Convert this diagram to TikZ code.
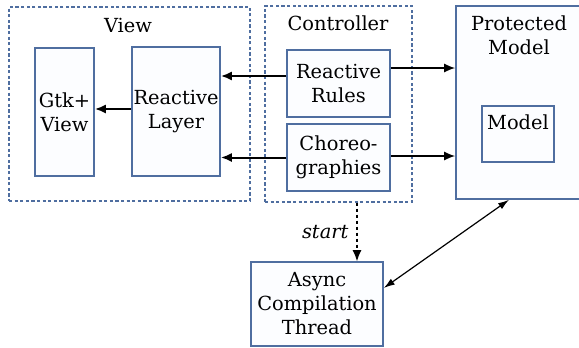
\documentclass[tikz,border=0pt]{standalone}
\usepackage{fontspec}
\setmainfont{DejaVu Serif}
\usepackage{tikz}
\usetikzlibrary{arrows.meta,shapes,calc,positioning}
\definecolor{boxblue}{RGB}{79,110,160}
\definecolor{boxfill}{RGB}{252,253,255}
\tikzstyle{block} =[rectangle, draw=boxblue, fill=boxfill,
                    line width=0.8pt, align=center, inner sep=0pt,
                    font=\fontsize{9.7}{12}\selectfont]
\tikzstyle{group} =[rectangle, draw=boxblue, dash pattern=on 1.6pt off 1.2pt,
                    line width=0.7pt, inner sep=0pt]
\tikzstyle{label} =[inner sep=0pt, align=center,
                    font=\fontsize{9.7}{12}\selectfont]
\tikzstyle{edge}  =[>={Latex[length=5.5pt,width=4.5pt]}, line width=1pt]

\begin{document}
\begin{tikzpicture}[x=0.5pt, y=-0.5pt, edge]
        \clip (0,0) rectangle (579,348);

        % view side
        \node[group, minimum width=120.5pt, minimum height=97pt] (view) at (129.5,104) {};
        \node[label] (viewlbl) at (128,25) {View};
        \node[block, minimum width=29.5pt, minimum height=64pt] (gtk) at (64.5,112) {Gtk+\\View};
        \node[block, minimum width=44pt, minimum height=64.5pt] (layer) at (176,111.5) {Reactive\\Layer};

        % controller
        \node[group, minimum width=73.5pt, minimum height=98pt] (ctrl) at (338.5,104) {};
        \node[label] (ctrllbl) at (338,23) {Controller};
        \node[block, minimum width=51.5pt, minimum height=33.5pt] (rules) at (338.5,83.5) {Reactive\\Rules};
        \node[block, minimum width=51.5pt, minimum height=33.5pt] (choreo) at (338.5,157.5) {Choreo-\\graphies};

        % model
        \node[block, minimum width=67pt, minimum height=96.5pt] (pmodel) at (523,102.5) {};
        \node[label] (pmodellbl) at (519,35) {Protected\\Model};
        \node[block, minimum width=36pt, minimum height=28pt] (model) at (518,134) {};
        \node[label] (modellbl) at (518,122) {Model};

        % thread
        \node[block, minimum width=66pt, minimum height=42pt] (async) at (317,304) {Async\\Compilation\\Thread};

        \draw[->] ([yshift=1.25pt]layer.west) -- ([yshift=1.25pt]layer.west -| gtk.east);
        \draw[->] ([yshift=3.75pt]rules.west) -- ([yshift=3.75pt]rules.west -| layer.east);
        \draw[->] (choreo.west) -- (choreo.west -| layer.east);
        \draw[->, line width=0.8pt] ([yshift=7.75pt]rules.east) -- ([yshift=7.75pt]rules.east -| pmodel.west);
        \draw[->, line width=0.8pt] ([yshift=0.75pt]choreo.east) -- ([yshift=0.75pt]choreo.east -| pmodel.west);
        \draw[->, dash pattern=on 1.8pt off 1.2pt, line width=0.6pt] (ctrl.south -| 357,0) -- (async.north -| 357,0)
            node[midway, left=4pt, label, font=\fontsize{9.7}{12}\selectfont\itshape] {start};
        \draw[{Latex[length=5.5pt,width=3.5pt]}-{Latex[length=5.5pt,width=3.5pt]}, line width=0.6pt]
            ([yshift=8pt]async.east) -- (pmodel.south -| 509,0);
\end{tikzpicture}
\end{document}
